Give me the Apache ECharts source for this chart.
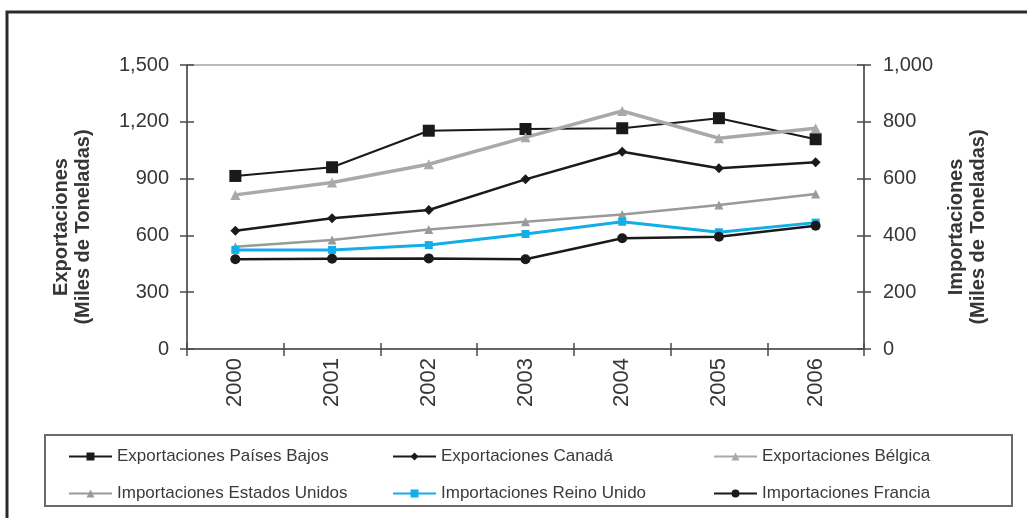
<!DOCTYPE html>
<html>
<head>
<meta charset="utf-8">
<script src="https://cdn.jsdelivr.net/npm/echarts@6/dist/echarts.min.js"></script>
<style>
  html, body { margin: 0; padding: 0; background: #fff; }
  #chart { width: 1027px; height: 518px; }
</style>
</head>
<body>
<div id="chart"></div>
<script>
// Años
const years = ['2000', '2001', '2002', '2003', '2004', '2005', '2006'];

// Exportaciones (eje izquierdo, miles de toneladas)
const expPaisesBajos = [914, 960, 1153, 1162, 1166, 1219, 1108];
const expCanada      = [625, 690, 734, 896, 1042, 955, 986];
const expBelgica     = [814, 879, 976, 1118, 1257, 1113, 1166];

// Importaciones (eje derecho, miles de toneladas)
const impEEUU        = [360, 384, 421, 448, 474, 507, 546];
const impReinoUnido  = [349, 349, 366, 405, 448, 411, 445];
const impFrancia     = [316, 318, 319, 316, 390, 395, 434];

// Escalas de los ejes
const leftAxis  = { min: 0, max: 1500, interval: 300 };
const rightAxis = { min: 0, max: 1000, interval: 200 };

// Títulos de los ejes
const leftTitle  = ['Exportaciones', '(Miles de Toneladas)'];
const rightTitle = ['Importaciones', '(Miles de Toneladas)'];

const FONT = '"Liberation Sans", Arial, Helvetica, sans-serif';
const TEXT = '#363636';
const AXIS = '#4a4a4a';

const fmt = v => v.toLocaleString('en-US');

function series(name, data, yIdx, color, width, symbol, size) {
  return {
    name, type: 'line', data, xAxisIndex: 0, yAxisIndex: yIdx,
    symbol, symbolSize: size, showSymbol: true,
    lineStyle: { color, width },
    itemStyle: { color, borderWidth: 0 },
    emphasis: { disabled: true },
    z: 3
  };
}

function titleText(text, x, y) {
  return {
    type: 'text', silent: true, x, y, rotation: Math.PI / 2,
    style: {
      text, fontFamily: FONT, fontSize: 20, fontWeight: 'bold', fill: TEXT,
      align: 'center', verticalAlign: 'middle'
    }
  };
}

const chart = echarts.init(document.getElementById('chart'), null, { renderer: 'canvas' });

const legendCommon = {
  orient: 'vertical',
  top: 443,
  itemWidth: 43,
  itemHeight: 10,
  itemGap: 20,
  textStyle: { fontFamily: FONT, fontSize: 17, color: '#3a3a3a', lineHeight: 17 },
  selectedMode: false
};

chart.setOption({
  animation: false,
  backgroundColor: '#fff',
  grid: {
    left: 187, right: 163, top: 65, bottom: 169,
    show: true, borderColor: '#777', borderWidth: 1, backgroundColor: 'transparent'
  },
  xAxis: [
    {
      type: 'category', data: years, boundaryGap: true,
      axisLine: { lineStyle: { color: AXIS, width: 1.5 } },
      axisTick: { show: true, length: 7, lineStyle: { color: AXIS, width: 1.5 } },
      axisLabel: { rotate: 90, margin: 9, fontFamily: FONT, fontSize: 22, color: TEXT }
    },
    {
      type: 'category', data: years, boundaryGap: true, position: 'bottom',
      axisLine: { show: false },
      axisTick: { show: true, inside: true, length: 6, lineStyle: { color: AXIS, width: 1.5 } },
      axisLabel: { show: false }
    }
  ],
  yAxis: [
    {
      type: 'value', position: 'left', ...leftAxis,
      axisLine: { show: true, lineStyle: { color: AXIS, width: 1.5 } },
      axisTick: { show: true, length: 7, lineStyle: { color: AXIS, width: 1.5 } },
      splitLine: { show: false },
      axisLabel: { margin: 18, fontFamily: FONT, fontSize: 20, color: TEXT, formatter: fmt }
    },
    {
      type: 'value', position: 'right', ...rightAxis,
      axisLine: { show: true, lineStyle: { color: AXIS, width: 1.5 } },
      axisTick: { show: true, length: 7, lineStyle: { color: AXIS, width: 1.5 } },
      splitLine: { show: false },
      axisLabel: { margin: 19, fontFamily: FONT, fontSize: 20, color: TEXT, formatter: fmt }
    },
    {
      type: 'value', position: 'left', ...leftAxis,
      axisLine: { show: false },
      axisTick: { show: true, inside: true, length: 7, lineStyle: { color: AXIS, width: 1.5 } },
      splitLine: { show: false }, axisLabel: { show: false }
    },
    {
      type: 'value', position: 'right', ...rightAxis,
      axisLine: { show: false },
      axisTick: { show: true, inside: true, length: 7, lineStyle: { color: AXIS, width: 1.5 } },
      splitLine: { show: false }, axisLabel: { show: false }
    }
  ],
  legend: [
    { ...legendCommon, left: 63, data: ['Exportaciones Países Bajos', 'Importaciones Estados Unidos'] },
    { ...legendCommon, left: 387, data: ['Exportaciones Canadá', 'Importaciones Reino Unido'] },
    { ...legendCommon, left: 708, data: ['Exportaciones Bélgica', 'Importaciones Francia'] }
  ],
  series: [
    series('Exportaciones Países Bajos', expPaisesBajos, 0, '#1a1a1a', 2, 'rect', 12),
    series('Exportaciones Canadá', expCanada, 0, '#1a1a1a', 2.5, 'diamond', 10),
    series('Exportaciones Bélgica', expBelgica, 0, '#a9a9a9', 3.5, 'triangle', 10),
    series('Importaciones Estados Unidos', impEEUU, 1, '#9a9a9a', 2.5, 'triangle', 9),
    series('Importaciones Reino Unido', impReinoUnido, 1, '#12aee8', 3, 'rect', 8),
    series('Importaciones Francia', impFrancia, 1, '#1a1a1a', 2.5, 'circle', 10)
  ],
  graphic: [
    {
      type: 'polyline', silent: true,
      shape: { points: [[7, 518], [7, 12], [1027, 12]] },
      style: { stroke: '#2a2a2a', lineWidth: 3, fill: null }
    },
    {
      type: 'rect', silent: true, z: -1,
      shape: { x: 45, y: 435, width: 967, height: 71 },
      style: { stroke: '#6a6a6a', lineWidth: 2, fill: '#fff' }
    },
    titleText(leftTitle[0], 61, 227),
    titleText(leftTitle[1], 83, 227),
    titleText(rightTitle[0], 956, 227),
    titleText(rightTitle[1], 978, 227)
  ]
});
</script>
</body>
</html>
